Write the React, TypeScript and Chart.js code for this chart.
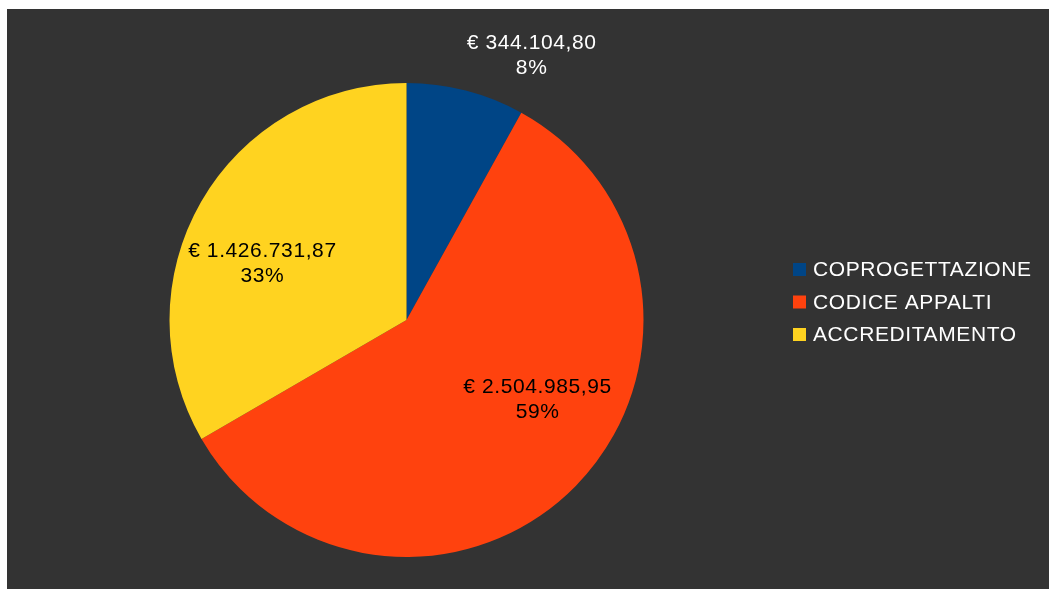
import React, { useEffect, useRef } from "react";
import { Chart, registerables } from "chart.js";

Chart.register(...registerables);

const categories = ["COPROGETTAZIONE", "CODICE APPALTI", "ACCREDITAMENTO"];
const amounts = [344104.8, 2504985.95, 1426731.87];
const colors = ["#004586", "#ff420e", "#ffd320"];
const labelColors = ["#ffffff", "#000000", "#000000"];
// label block centre offsets, as fractions of the pie radius
const labelOffsets = [
  [0.528, -1.114],
  [0.553, 0.338],
  [-0.608, -0.236],
];

const BG = "#333333";
const FONT = "21px 'Liberation Sans', Arial, sans-serif";

function formatEuro(v: number): string {
  const fixed = v.toFixed(2);
  const [intPart, dec] = fixed.split(".");
  const withDots = intPart.replace(/\B(?=(\d{3})+(?!\d))/g, ".");
  return "€ " + withDots + "," + dec;
}

const labelPlugin = {
  id: "sliceLabels",
  afterDatasetsDraw(chart: any) {
    const ctx = chart.ctx;
    const meta = chart.getDatasetMeta(0);
    const data = chart.data.datasets[0].data as number[];
    const total = data.reduce((a, b) => a + b, 0);
    ctx.save();
    ctx.font = FONT;
    (ctx as any).letterSpacing = "0.6px";
    ctx.textAlign = "center";
    ctx.textBaseline = "middle";
    meta.data.forEach((arc: any, i: number) => {
      const r = arc.outerRadius;
      const cx = arc.x + labelOffsets[i][0] * r;
      const cy = arc.y + labelOffsets[i][1] * r;
      ctx.fillStyle = labelColors[i];
      ctx.fillText(formatEuro(data[i]), cx, cy - 12.5);
      ctx.fillText(Math.round((data[i] / total) * 100) + "%", cx, cy + 12.5);
    });
    ctx.restore();
  },
};

const legendPlugin = {
  id: "customLegend",
  afterDraw(chart: any) {
    const ctx = chart.ctx;
    const labels = chart.data.labels as string[];
    const bgs = chart.data.datasets[0].backgroundColor as string[];
    ctx.save();
    ctx.font = FONT;
    (ctx as any).letterSpacing = "0.6px";
    ctx.textAlign = "left";
    ctx.textBaseline = "middle";
    const x0 = 786;
    const y0 = 260.5;
    const step = 32.5;
    labels.forEach((lab, i) => {
      const y = y0 + i * step;
      ctx.fillStyle = bgs[i];
      ctx.fillRect(x0, y - 6.5, 13, 13);
      ctx.fillStyle = "#ffffff";
      ctx.fillText(lab, x0 + 20, y + 1);
    });
    ctx.restore();
  },
};

export default function App() {
  const ref = useRef<HTMLCanvasElement | null>(null);
  useEffect(() => {
    if (!ref.current) return;
    const chart = new Chart(ref.current, {
      type: "pie",
      data: {
        labels: categories,
        datasets: [
          {
            data: amounts,
            backgroundColor: colors,
            borderWidth: 0,
            hoverOffset: 0,
          },
        ],
      },
      options: {
        responsive: false,
        animation: false,
        layout: { padding: { left: 162.5, top: 74, right: 405.5, bottom: 32 } },
        plugins: {
          legend: { display: false },
          tooltip: { enabled: false },
        },
      },
      plugins: [labelPlugin, legendPlugin],
    });
    return () => chart.destroy();
  }, []);
  return (
    <div
      style={{
        position: "absolute",
        left: 7,
        top: 9,
        width: 1042,
        height: 580,
        background: BG,
      }}
    >
      <canvas ref={ref} width={1042} height={580} style={{ display: "block" }} />
    </div>
  );
}
